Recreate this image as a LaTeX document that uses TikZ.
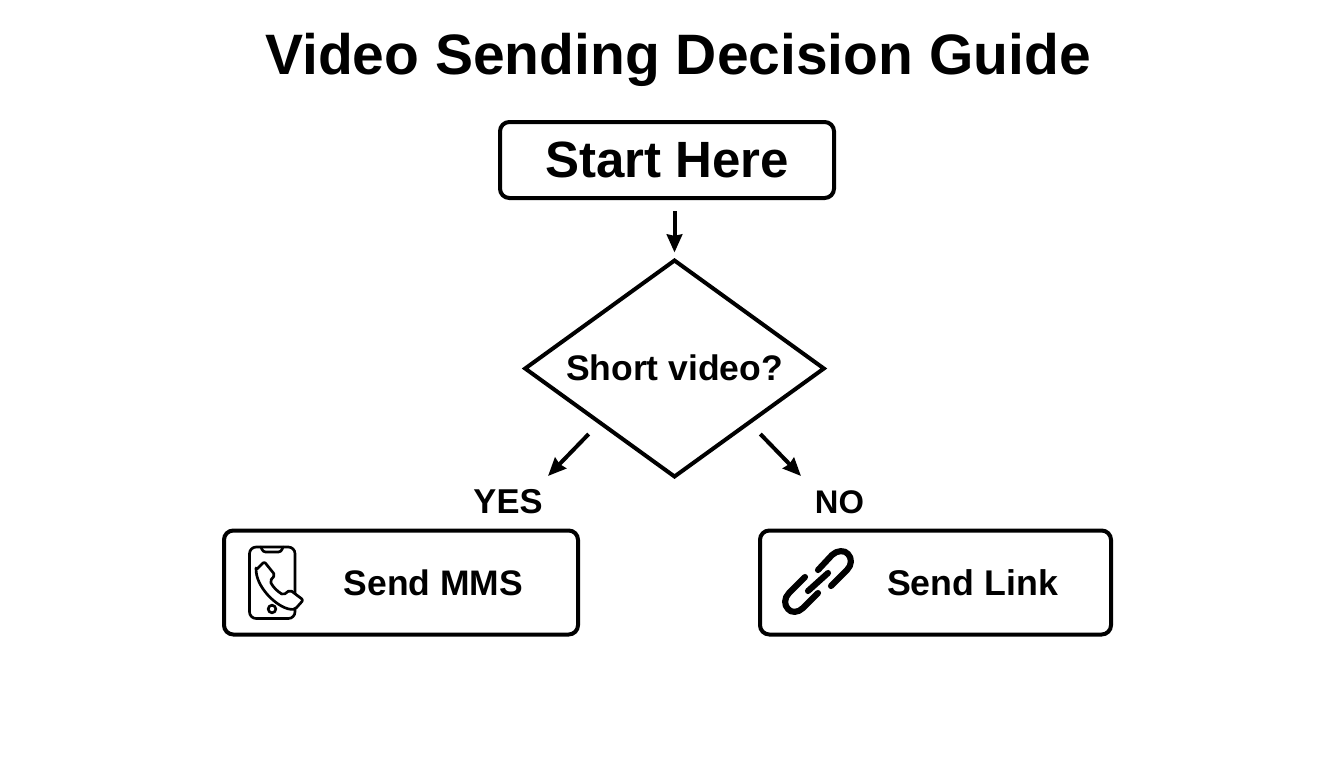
\documentclass[tikz,border=0pt]{standalone}
\usepackage{fontspec}
\setmainfont{Liberation Sans}
\usetikzlibrary{arrows.meta,shapes.geometric}
\newcommand{\setpx}[1]{\fontsize{\dimexpr#1pt*3/4\relax}{\dimexpr#1pt\relax}\selectfont\bfseries}
\tikzset{
  x=0.75pt,y=-0.75pt,
  txt/.style={inner sep=0pt,outer sep=0pt,anchor=base,text=black},
  boxed/.style={draw=black,line width=3pt,rounded corners=7pt,inner sep=0pt,outer sep=0pt,fill=white},
  decision/.style={draw=black,diamond,line width=3pt,inner sep=0pt,outer sep=0pt,aspect=1.384,minimum width=224pt,minimum height=162pt,miter limit=10},
  flow/.style={draw=black,line width=3pt,-{Stealth[length=13.5pt,width=11.5pt,inset=1pt]}},
  icon/.style={draw=black,line width=2pt,line join=round,line cap=round},
  chain/.style={draw=black,line width=4.6pt,line cap=round,line join=round},
}
\begin{document}
\begin{tikzpicture}
\useasboundingbox (0,0) rectangle (1344,768);
\fill[white] (0,0) rectangle (1344,768);

\node[txt] (title) at (678,74) {\setpx{57}Video Sending Decision Guide};

\node[boxed,minimum width=250.5pt,minimum height=57pt] (start) at (667,160) {\setpx{51}Start Here};

\node[decision] (dec) at (674.5,368.5) {};
\node[txt] (dectext) at (674.5,380) {\setpx{35.5}Short video?};

\coordinate (yestip) at (548,476);
\coordinate (notip) at (801,476);
\draw[flow,shorten <=13*0.75pt,shorten >=8*0.75pt] (start.south -| dec.north) -- (dec.north);
\draw[flow,shorten <=12pt] (dec.south west) -- (yestip);
\draw[flow,shorten <=12pt] (dec.south east) -- (notip);

\node[txt] (yes) at (508,513) {\setpx{34.5}YES};
\node[txt] (no) at (839.5,513) {\setpx{32.7}NO};

\node[boxed,minimum width=265.5pt,minimum height=78pt] (mms) at (401,582.5) {};
\node[boxed,minimum width=263.25pt,minimum height=78pt] (link) at (935.5,582.5) {};

\node[txt] (mmstext) at (433.5,595) {\fontsize{26.6pt}{30pt}\selectfont\bfseries Send MMS};
\node[txt] (linktext) at (972.5,595) {\fontsize{26.8pt}{30pt}\selectfont\bfseries Send Link};

% phone icon
\draw[icon,rounded corners=5pt] (249.5,547) rectangle (295,618.5);
\draw[icon,rounded corners=2pt] (261,547) -- (263,552) -- (281,552) -- (283,547);
\draw[icon] (272,609) circle (3.8);
\draw[icon,fill=white,rounded corners=1.5pt] (256,570) -- (264.3,561.7) -- (275,575) -- (270,581)
  .. controls (273,587) and (277,591) .. (283.3,595) -- (290,590) -- (303.3,600) -- (295,609.3)
  .. controls (280,610) and (258,590) .. cycle;

% link icon
\draw[chain] (818,570) -- (832,555) .. controls (837,550) and (845,550) .. (848,554)
  .. controls (852,558) and (852,565) .. (847,570) -- (831,586);
\draw[chain] (818,593) -- (803,608) .. controls (798,613) and (791,613) .. (788,609)
  .. controls (784,605) and (784,598) .. (789,593) -- (805,577);
\draw[chain] (808,591) -- (828,573);
\end{tikzpicture}
\end{document}
